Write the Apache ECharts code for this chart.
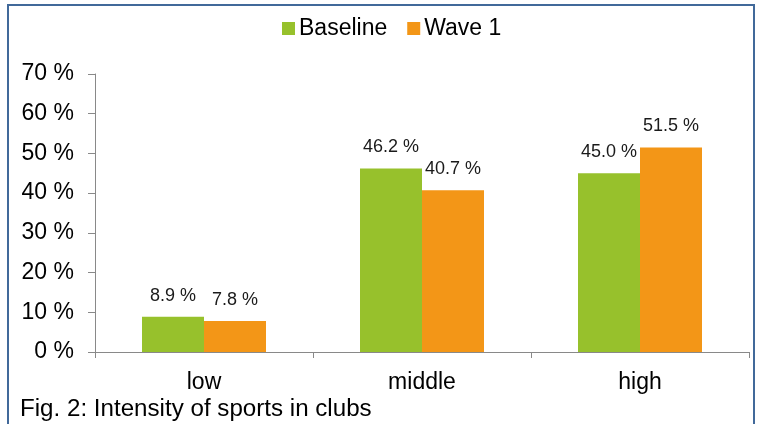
<!DOCTYPE html>
<html>
<head>
<meta charset="utf-8">
<script src="https://cdn.jsdelivr.net/npm/echarts@6/dist/echarts.min.js"></script>
<style>
  html, body { margin: 0; padding: 0; background: #fff; }
  #chart { width: 759px; height: 424px; }
</style>
</head>
<body>
<div id="chart"></div>
<script>
// Share of respondents by intensity of sports in clubs
const categories = ['low', 'middle', 'high'];
const baseline = [8.9, 46.2, 45.0];
const wave1 = [7.8, 40.7, 51.5];
const seriesNames = ['Baseline', 'Wave 1'];
const caption = 'Fig. 2: Intensity of sports in clubs';

const FONT = '"Liberation Sans", Arial, sans-serif';
const chart = echarts.init(document.getElementById('chart'));

const labelStyle = {
  show: true,
  position: 'top',
  distance: 12,
  fontFamily: FONT,
  fontSize: 18,
  color: '#1a1a1a',
  formatter: p => p.value.toFixed(1) + ' %'
};

chart.setOption({
  animation: false,
  backgroundColor: '#ffffff',
  legend: {
    data: seriesNames,
    left: 277,
    top: 12,
    itemWidth: 13,
    itemHeight: 13,
    itemGap: 20,
    icon: 'rect',
    textStyle: { fontFamily: FONT, fontSize: 23, color: '#000', padding: [0, 0, 0, -1] }
  },
  grid: { left: 95, right: 10, top: 74, bottom: 72 },
  xAxis: {
    type: 'category',
    data: categories,
    axisLine: { lineStyle: { color: '#898989', width: 1 } },
    axisTick: { show: true, length: 6, lineStyle: { color: '#898989' } },
    axisLabel: { fontFamily: FONT, fontSize: 23, color: '#000', margin: 19 }
  },
  yAxis: {
    type: 'value',
    min: 0,
    max: 70,
    interval: 10,
    splitLine: { show: false },
    axisLine: { show: true, lineStyle: { color: '#898989', width: 1 } },
    axisTick: { show: true, length: 7, lineStyle: { color: '#898989' } },
    axisLabel: {
      fontFamily: FONT, fontSize: 23, color: '#000', margin: 21,
      formatter: v => v + ' %'
    }
  },
  series: [
    {
      name: seriesNames[0],
      type: 'bar',
      data: baseline,
      barWidth: 62,
      barGap: '0%',
      itemStyle: { color: '#97c12c' },
      label: labelStyle
    },
    {
      name: seriesNames[1],
      type: 'bar',
      data: wave1,
      barWidth: 62,
      barGap: '0%',
      itemStyle: { color: '#f39617' },
      label: labelStyle
    }
  ],
  graphic: [
    {
      type: 'rect',
      shape: { x: 8, y: 5, width: 746, height: 440 },
      style: { fill: null, stroke: '#41699a', lineWidth: 2 },
      silent: true
    },
    {
      type: 'text',
      x: 20,
      y: 398,
      scaleX: 1.05,
      style: { text: caption, fontFamily: FONT, fontSize: 23, fill: '#000' }
    }
  ]
});
</script>
</body>
</html>
